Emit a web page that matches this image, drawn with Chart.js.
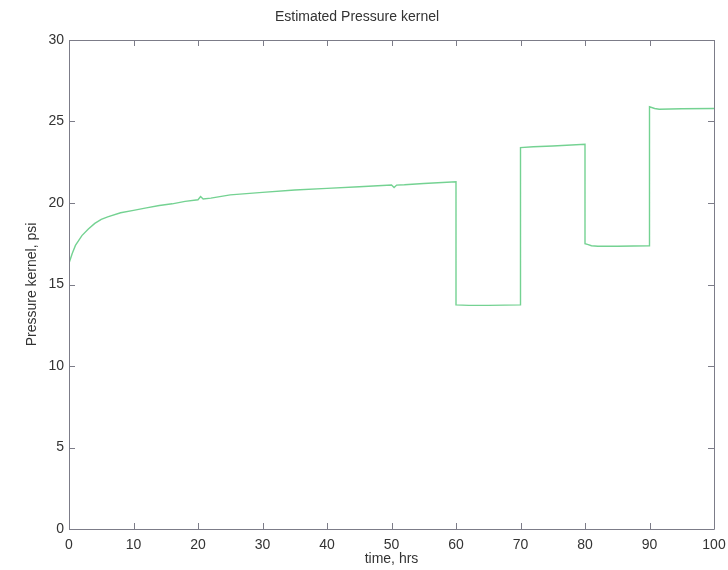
<!DOCTYPE html>
<html>
<head>
<meta charset="utf-8">
<script src="https://cdn.jsdelivr.net/npm/chart.js@4.4.1/dist/chart.umd.min.js"></script>
<style>
  html, body { margin: 0; padding: 0; background: #ffffff; }
  #wrap { width: 728px; height: 570px; }
</style>
</head>
<body>
<div id="wrap"><canvas id="c" width="728" height="570"></canvas></div>
<script>
// Estimated pressure kernel over time (hrs)
const timeHrs = [0, 0, 0.5, 1, 2, 3, 4, 5, 6, 8, 10, 12, 14, 16, 18, 20, 20.4, 20.8, 22, 25, 30, 35, 40, 45, 50, 50.4, 50.8, 52, 55, 60,
  60, 62, 65, 70, 70, 72, 75, 80, 80, 80.5, 81, 82, 85, 90, 90, 90.8, 91.5, 95, 100];
const pressurePsi = [30, 16.3, 16.9, 17.4, 18.0, 18.4, 18.75, 19.0, 19.15, 19.4, 19.55, 19.7, 19.85, 19.95, 20.1, 20.2, 20.4, 20.25, 20.3, 20.5, 20.65, 20.8, 20.9, 21.0, 21.1, 20.95, 21.1, 21.12, 21.2, 21.3,
  13.75, 13.72, 13.72, 13.75, 23.4, 23.45, 23.5, 23.6, 17.5, 17.45, 17.38, 17.35, 17.35, 17.38, 25.9, 25.8, 25.75, 25.78, 25.8];
const xTicks = [0, 10, 20, 30, 40, 50, 60, 70, 80, 90, 100];
const yTicks = [0, 5, 10, 15, 20, 25, 30];

const points = timeHrs.map((t, i) => ({ x: t, y: pressurePsi[i] }));

const AXIS_COLOR = '#7c7c88';
const TEXT_COLOR = '#333333';
const FONT = { family: '"Liberation Sans", Arial, sans-serif', size: 14, weight: 'normal' };

// Box around the plot area with inward ticks on all four sides
const boxTicks = {
  id: 'boxTicks',
  afterDatasetsDraw(chart) {
    const { ctx, chartArea: a, scales } = chart;
    const len = 6;
    ctx.save();
    ctx.strokeStyle = AXIS_COLOR;
    ctx.lineWidth = 1;
    ctx.beginPath();
    ctx.rect(Math.round(a.left) + 0.5, Math.round(a.top) + 0.5, Math.round(a.right - a.left), Math.round(a.bottom - a.top));
    xTicks.forEach(v => {
      const px = Math.round(scales.x.getPixelForValue(v)) + 0.5;
      ctx.moveTo(px, a.bottom); ctx.lineTo(px, a.bottom - len);
      ctx.moveTo(px, a.top); ctx.lineTo(px, a.top + len);
    });
    yTicks.forEach(v => {
      const py = Math.round(scales.y.getPixelForValue(v)) + 0.5;
      ctx.moveTo(a.left, py); ctx.lineTo(a.left + len, py);
      ctx.moveTo(a.right, py); ctx.lineTo(a.right - len, py);
    });
    ctx.stroke();
    ctx.restore();
  }
};

new Chart(document.getElementById('c'), {
  type: 'line',
  data: {
    datasets: [{
      data: points,
      borderColor: '#74d292',
      borderWidth: 1.4,
      pointRadius: 0,
      tension: 0,
      fill: false
    }]
  },
  options: {
    responsive: false,
    animation: false,
    layout: { padding: { left: 0, right: 14, top: 0, bottom: 0 } },
    plugins: {
      legend: { display: false },
      tooltip: { enabled: false },
      title: {
        display: true,
        text: 'Estimated Pressure kernel',
        color: TEXT_COLOR,
        font: FONT,
        padding: { top: 9, bottom: 14.2 }
      }
    },
    scales: {
      x: {
        type: 'linear',
        min: 0, max: 100,
        afterFit(s) { s.height = 41; s.paddingLeft = 0; s.paddingRight = 0; },
        afterBuildTicks(s) { s.ticks = xTicks.map(v => ({ value: v })); },
        grid: { display: false, drawTicks: false },
        border: { display: false },
        ticks: { color: TEXT_COLOR, font: FONT, padding: 8, maxRotation: 0 },
        title: { display: true, text: 'time, hrs', color: TEXT_COLOR, font: FONT, padding: { top: 0, bottom: 2 } }
      },
      y: {
        type: 'linear',
        min: 0, max: 30,
        afterFit(s) { s.width = 69; s.paddingTop = 0; s.paddingBottom = 0; },
        afterBuildTicks(s) { s.ticks = yTicks.map(v => ({ value: v })); },
        grid: { display: false, drawTicks: false },
        border: { display: false },
        ticks: { color: TEXT_COLOR, font: FONT, padding: 5 },
        title: { display: true, text: 'Pressure kernel, psi', color: TEXT_COLOR, font: FONT, padding: { top: 24, bottom: 0 } }
      }
    }
  },
  plugins: [boxTicks]
});
</script>
</body>
</html>
